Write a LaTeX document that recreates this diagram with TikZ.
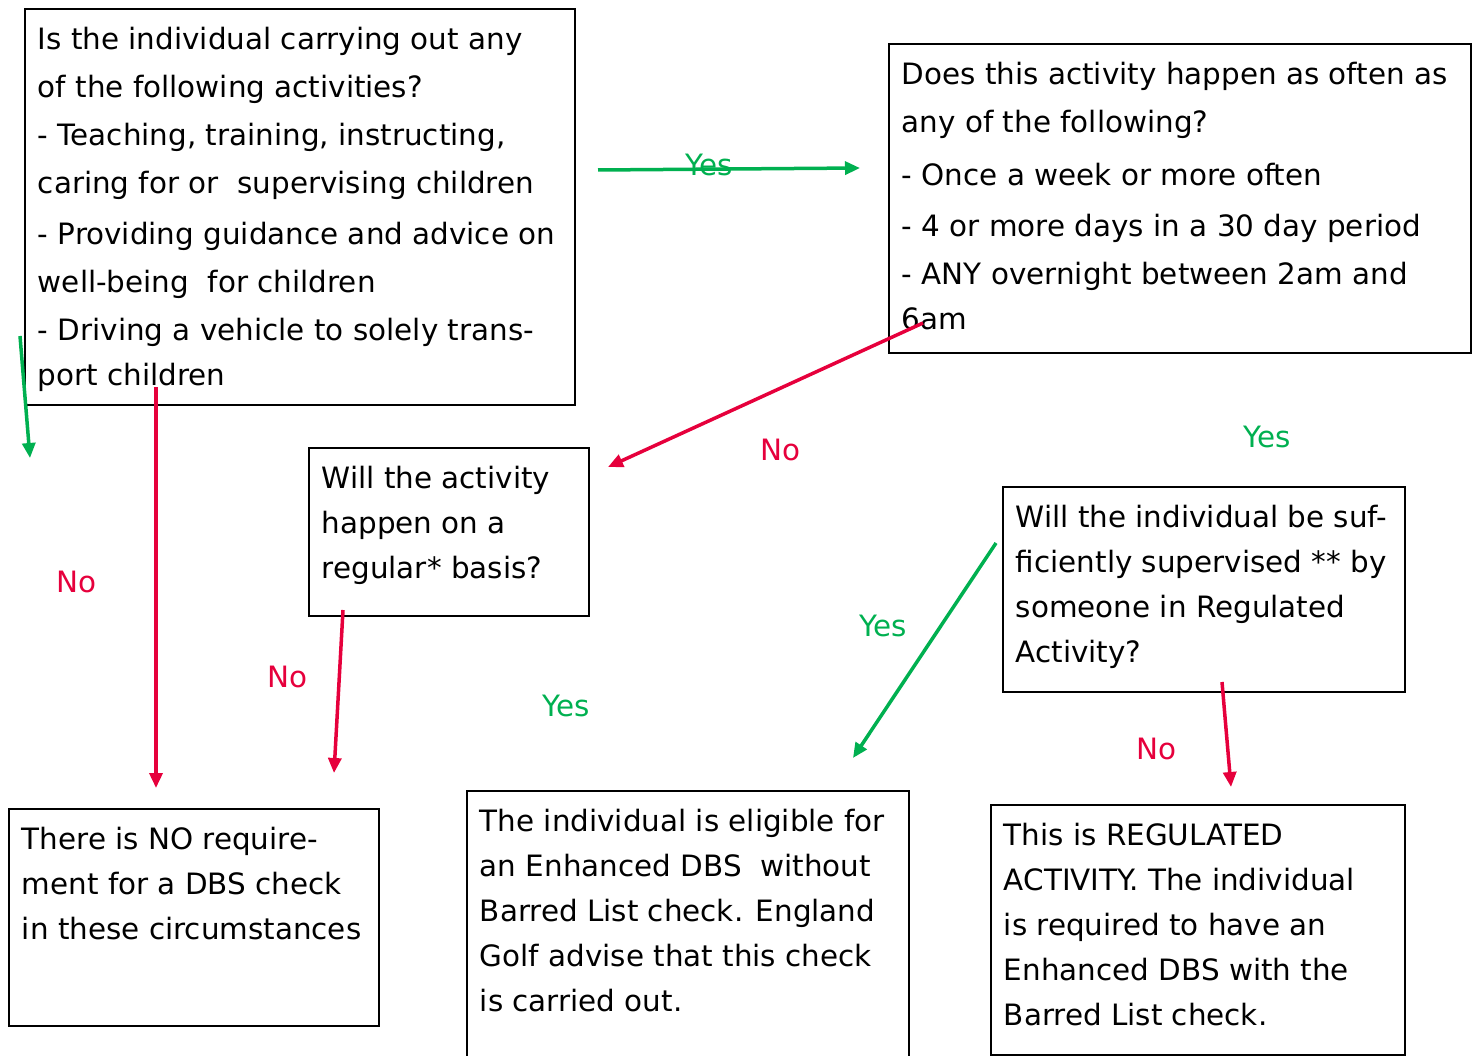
\documentclass[tikz,border=0pt]{standalone}
\usepackage{fontspec}
\setmainfont{DejaVu Sans}
\usetikzlibrary{arrows.meta,positioning,calc}
\definecolor{yesgreen}{RGB}{0,176,80}
\definecolor{nored}{RGB}{230,0,60}
\newcommand{\boxtext}[3]{\parbox[t][#2][t]{#1}{\begin{tabular}[t]{@{}l@{}}#3\end{tabular}}}

\begin{document}
\begin{tikzpicture}[x=1pt, y=-1pt, >={Triangle[length=15pt,width=13pt]}]
\tikzstyle{qbox}=[draw=black, line width=1.8pt, anchor=north west, inner xsep=13pt, inner ysep=7.4pt, font=\fontsize{29.4}{48}\selectfont]
\tikzstyle{abox}=[qbox, inner ysep=9.5pt, font=\fontsize{29.4}{45}\selectfont]
\tikzstyle{yesarrow}=[->, draw=yesgreen, line width=3.5pt]
\tikzstyle{noarrow}=[->, draw=nored, line width=3.5pt]
\tikzstyle{lab}=[inner sep=0pt, font=\fontsize{29.4}{35}\selectfont]
\useasboundingbox (0,0) rectangle (1479,1056);
% questions
\node[qbox] (Q)  at (24,8)    {\boxtext{524pt}{381pt}{Is the individual carrying out any\\
  of the following activities?\\ - Teaching, training, instructing,\\
  caring for or~ supervising children\\[3pt] - Providing guidance and advice on\\
  well-being~ for children\\ - Driving a vehicle to solely trans-\\[-3pt] port children}};
\node[qbox] (F)  at (888,43)  {\boxtext{556pt}{294pt}{Does this activity happen as often as\\
  any of the following?\\[5pt] - Once a week or more often\\[3pt] - 4 or more days in a 30 day period\\
  - ANY overnight between 2am and\\[-3pt] 6am}};
\node[abox] (R)  at (308,447) {\boxtext{254pt}{149pt}{Will the activity\\ happen on a\\ regular* basis?}};
\node[abox] (S)  at (1002,486){\boxtext{376pt}{186pt}{Will the individual be suf-\\
  ficiently supervised ** by\\ someone in Regulated\\ Activity?}};
% outcomes
\node[abox] (N)  at (8,808)   {\boxtext{344pt}{198pt}{There is NO require-\\ ment for a DBS check\\ in these circumstances}};
\node[abox] (E)  at (466,790) {\boxtext{416pt}{271pt}{The individual is eligible for\\
  an Enhanced DBS~ without\\ Barred List check. England\\ Golf advise that this check\\ is carried out.}};
\node[abox] (RA) at (990,804) {\boxtext{388pt}{231pt}{This is REGULATED\\
  ACTIVITY. The individual\\ is required to have an\\ Enhanced DBS with the\\ Barred List check.}};
% arrow ends
\coordinate (q1) at (598,170);  \coordinate (f1) at (860,168);
\coordinate (q2) at (20,336);   \coordinate (q3) at (30,458);
\coordinate (q4) at (156,387);  \coordinate (n1) at (156,788);
\coordinate (f2) at (923,323);  \coordinate (r1) at (608,467);
\coordinate (r2) at (343,610);  \coordinate (n2) at (334,773);
\coordinate (s1) at (996,543);  \coordinate (e1) at (853,758);
\coordinate (s2) at (1222,682); \coordinate (ra1) at (1231,787);
\draw[yesarrow] (q1) -- (f1);
\draw[yesarrow] (q2) -- (q3);
\draw[noarrow]  (q4) -- (n1);
\draw[noarrow]  (f2) -- (r1);
\draw[noarrow]  (r2) -- (n2);
\draw[yesarrow] (s1) -- (e1);
\draw[noarrow]  (s2) -- (ra1);
% labels
\node[lab, yesgreen] (l1) at (709,165)  {Yes};
\node[lab, nored]    (l2) at (76,582)   {No};
\node[lab, nored]    (l3) at (780,450)  {No};
\node[lab, nored]    (l4) at (287,677)  {No};
\node[lab, yesgreen] (l5) at (566,706)  {Yes};
\node[lab, yesgreen] (l6) at (1267,437) {Yes};
\node[lab, yesgreen] (l7) at (883,626)  {Yes};
\node[lab, nored]    (l8) at (1156,749) {No};
\end{tikzpicture}
\end{document}
